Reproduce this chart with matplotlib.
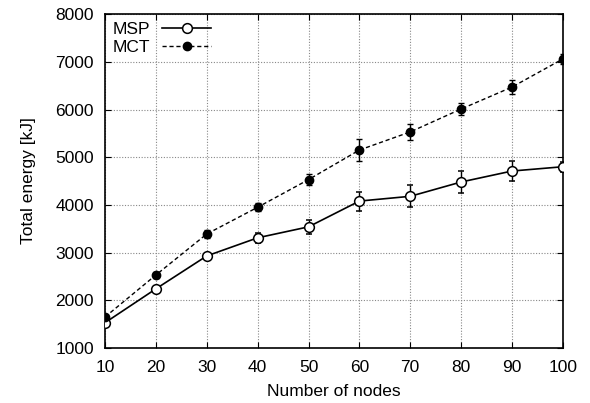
import matplotlib
matplotlib.use("Agg")
import matplotlib.pyplot as plt
from matplotlib.lines import Line2D

plt.rcParams['font.family'] = ['Liberation Sans', 'DejaVu Sans']

nodes = [10, 20, 30, 40, 50, 60, 70, 80, 90, 100]
msp = [1530, 2240, 2930, 3310, 3540, 4080, 4180, 4480, 4710, 4800]
msp_err = [40, 60, 50, 100, 140, 200, 230, 240, 210, 100]
mct = [1650, 2530, 3390, 3950, 4530, 5150, 5530, 6010, 6470, 7060]
mct_err = [40, 60, 80, 80, 110, 230, 160, 120, 140, 110]

fs = 12.5

fig = plt.figure(figsize=(5.9, 4.03), dpi=100)
ax = fig.add_axes([0.178, 0.1365, 0.776, 0.8285])

msp_style = dict(color='black', lw=1.2, marker='o', markersize=7,
                 markerfacecolor='white', markeredgecolor='black',
                 markeredgewidth=1.1)
mct_style = dict(color='black', lw=1.0, ls=(0, (3, 2)), marker='o',
                 markersize=6, markerfacecolor='black')

ax.errorbar(nodes, msp, yerr=msp_err, capsize=2.5, elinewidth=1, zorder=3,
            **msp_style)
ax.errorbar(nodes, mct, yerr=mct_err, capsize=2.5, elinewidth=1, zorder=3,
            **mct_style)

ax.set_xlim(10, 100)
ax.set_ylim(1000, 8000)
ax.set_xticks(nodes)
ax.set_yticks(range(1000, 8001, 1000))
ax.tick_params(direction='in', top=True, right=True, labelsize=fs, length=4)
ax.tick_params(axis='y', pad=8)
ax.tick_params(axis='x', pad=9)
ax.grid(True, color='#888888', ls=(0, (1, 1.5)), lw=0.8)
for s in ax.spines.values():
    s.set_linewidth(1.2)

ax.set_xlabel('Number of nodes', fontsize=fs, labelpad=6)
ax.set_ylabel('Total energy [kJ]', fontsize=fs, labelpad=14)

handles = [Line2D([], [], **msp_style), Line2D([], [], **mct_style)]
ax.legend(handles, ['MSP', 'MCT'], loc='upper left', frameon=False,
          markerfirst=False, fontsize=fs, handlelength=2.8,
          borderaxespad=0.35, borderpad=0.1, labelspacing=0.15,
          handletextpad=0.7)

fig.savefig('out.png', dpi=100)
